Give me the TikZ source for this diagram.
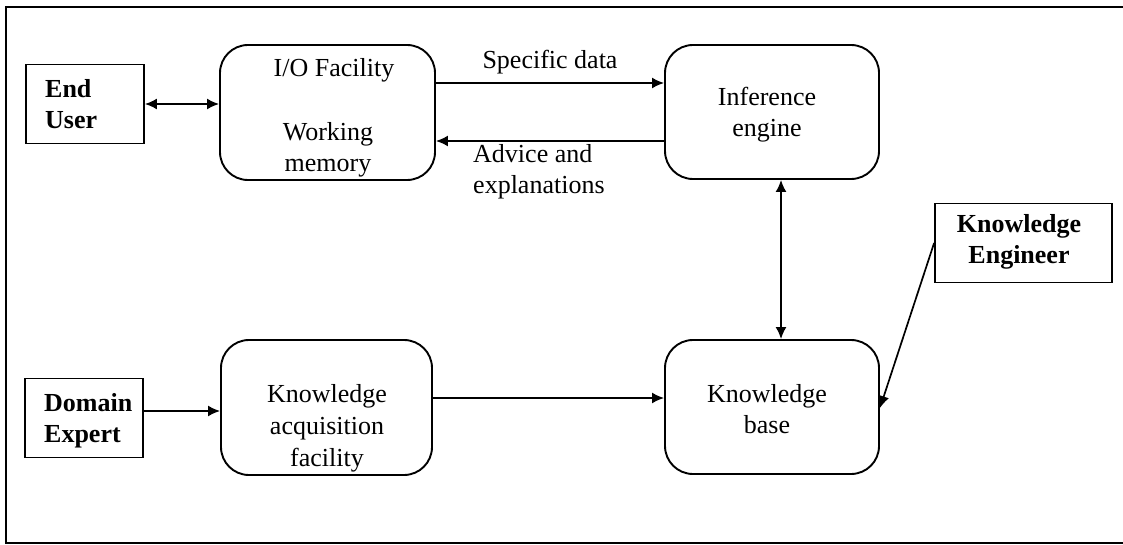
\documentclass[tikz,border=0pt]{standalone}
\usepackage{fontspec}
\setmainfont{Liberation Serif}
\usetikzlibrary{arrows.meta}
\begin{document}
\begin{tikzpicture}[x=1pt,y=-1pt,
  every node/.style={font=\fontsize{26}{31}\selectfont, inner sep=0pt},
  unit/.style={draw, line width=1.9pt, rounded corners=28pt},
  actor/.style={draw, line width=1.8pt, minimum height=79pt},
  txt/.style={align=center},
  bold/.style={font=\fontsize{26}{31}\selectfont\bfseries},
  tip/.tip={Latex[length=12pt,width=11pt]},
  link/.style={line width=1.7pt, -tip},
  both/.style={line width=1.7pt, tip-tip}]
\useasboundingbox (0,0) rectangle (1123,545);
% page frame (open on the right)
\draw[line width=2pt] (1123,7) -- (6,7) -- (6,543) -- (1123,543);

% actors
\node[actor, minimum width=118pt] (eu) at (85,104) {};
\node[bold, align=left, anchor=west] (eut) at (45,104) {End\\User};
\node[actor, minimum width=118pt] (de) at (84,418) {};
\node[bold, align=left, anchor=west] (det) at (44,421) {Domain\\Expert};
\node[actor, minimum width=177pt] (ke) at (1023.5,243) {};
\node[bold, align=center] (ket) at (1019,242) {Knowledge\\Engineer};

% system components
\node[unit, minimum width=215pt, minimum height=135pt] (io) at (327.5,112.5) {};
\node (iot) at (334,70) {I/O Facility};
\node[txt] (wmt) at (328,150) {Working\\memory};
\node[unit, minimum width=214pt, minimum height=134pt] (ie) at (772,112) {};
\node[txt] (iet) at (767,115) {Inference\\engine};
\node[unit, minimum width=214pt, minimum height=134pt] (kb) at (772,407) {};
\node[txt] (kbt) at (767,409) {Knowledge\\base};
\node[unit, minimum width=211pt, minimum height=135pt] (ka) at (326.5,407.5) {};
\node[txt, font=\fontsize{26}{32}\selectfont] (kat) at (327,428) {Knowledge\\acquisition\\facility};

% flows
\draw[both] (eu.east) -- (eu.east -| io.west);
\draw[link] (io.east |- 0,83) -- (ie.west |- 0,83)
  node[midway, above=8pt] (sd) {Specific data};
\draw[link] (ie.west |- 0,141) -- (io.east |- 0,141);
\node[align=left, anchor=west] (adv) at (473,172) {Advice and\\explanations};
\draw[both] (ie.south -| 781,0) -- (kb.north -| 781,0);
\draw[link] (ke.west) -- (kb.east |- 0,408);
\draw[link] (de.east |- 0,411) -- (ka.west |- 0,411);
\draw[link] (ka.east |- 0,398) -- (kb.west |- 0,398);
\end{tikzpicture}
\end{document}
